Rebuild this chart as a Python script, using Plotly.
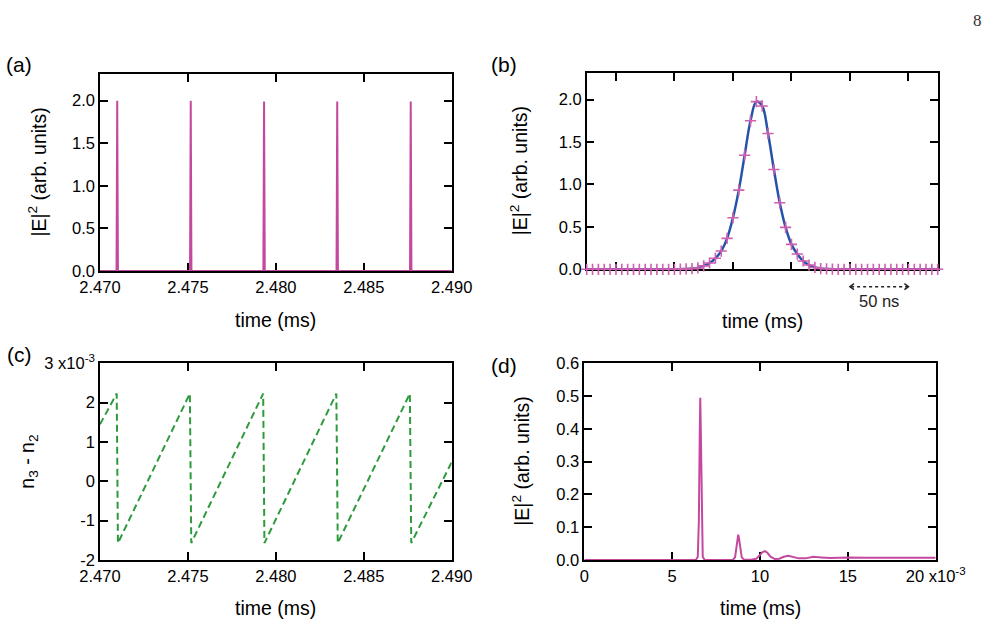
import plotly.graph_objects as go

# ---------------- data ----------------
# (a) |E|^2 pulse train, time in ms
a_time = [2.4700, 2.47094, 2.47098, 2.47102,
          2.47512, 2.47516, 2.47520,
          2.47929, 2.47933, 2.47937,
          2.48345, 2.48349, 2.48353,
          2.48763, 2.48767, 2.48771, 2.4900]
a_E2 = [0, 0, 2.0, 0,
        0, 2.0, 0,
        0, 1.99, 0,
        0, 1.99, 0,
        0, 1.99, 0, 0]

# (b) single pulse, time in ns (relative), sampled every 5 ns
b_time = list(range(0, 301, 5))
b_E2 = [0, 0, 0, 0, 0, 0, 0, 0, 0, 0, 0, 0, 0, 0, 0, 0,
        0.002, 0.004, 0.008, 0.016, 0.040, 0.074, 0.130, 0.215,
        0.365, 0.607, 0.933, 1.345, 1.750, 1.976, 1.925, 1.600,
        1.176, 0.784, 0.494, 0.294, 0.180, 0.098, 0.050, 0.022,
        0.009, 0.004, 0.002,
        0, 0, 0, 0, 0, 0, 0, 0, 0, 0, 0, 0, 0, 0, 0, 0, 0, 0]
b_ticks = [25, 75, 125, 175, 225, 275]

# (c) population inversion n3 - n2 (x10^-3), time in ms
c_time = [2.4700, 2.47095, 2.47102, 2.47511, 2.47519, 2.47928, 2.47935,
          2.48344, 2.48352, 2.48762, 2.48770, 2.4900]
c_n = [1.45, 2.23, -1.57, 2.23, -1.57, 2.23, -1.57, 2.23, -1.57, 2.23, -1.57, 0.49]

# (d) build-up transient, time in units of 1e-3 ms
d_time = [0, 6.35, 6.46, 6.52, 6.57, 6.60, 6.63, 6.68, 6.74, 6.85,
          8.45, 8.58, 8.66, 8.72, 8.76, 8.80, 8.87, 8.96, 9.10,
          9.5, 9.8, 10.0, 10.15, 10.28, 10.42, 10.6, 10.85,
          11.1, 11.35, 11.61, 11.9, 12.2, 12.6, 13.03, 13.5, 14.0, 14.5,
          15.0, 16.0, 17.0, 18.5, 20.0]
d_E2 = [0, 0, 0.01, 0.12, 0.38, 0.495, 0.40, 0.12, 0.01, 0,
        0, 0.008, 0.045, 0.072, 0.077, 0.068, 0.035, 0.008, 0.001,
        0.0005, 0.004, 0.015, 0.024, 0.027, 0.022, 0.010, 0.003,
        0.004, 0.010, 0.013, 0.010, 0.005, 0.005, 0.010, 0.008, 0.006, 0.007,
        0.008, 0.007, 0.007, 0.007, 0.007]

# ---------------- styles ----------------
MAG = "#c4499e"
MAG_MK = "#cf5fb0"
BLUE = "#2553aa"
GREEN = "#2f9a3d"
FONT = "Liberation Sans, Arial, sans-serif"
TICKSZ = 16.5
TITLESZ = 19.5

fig = go.Figure()
fig.add_trace(go.Scatter(x=a_time, y=a_E2, mode="lines",
                         line=dict(color=MAG, width=2), xaxis="x", yaxis="y"))
fig.add_trace(go.Scatter(x=b_time, y=b_E2, mode="lines",
                         line=dict(color=BLUE, width=2.5, shape="spline", smoothing=1.0),
                         xaxis="x2", yaxis="y2"))
fig.add_trace(go.Scatter(x=b_time, y=b_E2, mode="markers", cliponaxis=False,
                         marker=dict(symbol="cross-thin", size=8,
                                     line=dict(color=MAG_MK, width=1.6)),
                         xaxis="x2", yaxis="y2"))
fig.add_trace(go.Scatter(x=c_time, y=c_n, mode="lines",
                         line=dict(color=GREEN, width=2, dash="7px,4px"),
                         xaxis="x3", yaxis="y3"))
fig.add_trace(go.Scatter(x=d_time, y=d_E2, mode="lines",
                         line=dict(color=MAG, width=2), xaxis="x4", yaxis="y4"))

W, H = 1001, 625


def px_x(p):
    return p / W


def px_y(p):
    return 1 - p / H


def ax(**kw):
    d = dict(showline=True, linecolor="black", linewidth=1.5, mirror="ticks",
             ticks="inside", ticklen=8, tickwidth=1.5, tickcolor="black",
             showgrid=False, zeroline=False, layer="below traces", automargin=False,
             tickfont=dict(family=FONT, size=TICKSZ, color="black"))
    d.update(kw)
    return d


a_xdom = [px_x(100), px_x(451.7)]
b_xdom = [px_x(586.7), px_x(937.7)]
d_xdom = [px_x(584.3), px_x(935.7)]
top_ydom = [px_y(271), px_y(74.3)]
b_ydom = [px_y(269.3), px_y(73.3)]
bot_ydom = [px_y(560), px_y(363.3)]

fig.update_layout(
    template="none",
    width=W, height=H, margin=dict(l=0, r=0, t=0, b=0, pad=0, autoexpand=False),
    paper_bgcolor="white", plot_bgcolor="white", showlegend=False,
    font=dict(family=FONT, color="black"),
    xaxis=ax(domain=a_xdom, anchor="y", range=[2.470, 2.490],
             tickvals=[2.470, 2.475, 2.480, 2.485, 2.490], tickformat=".3f"),
    yaxis=ax(domain=top_ydom, anchor="x", range=[0, 2.31],
             tickvals=[0, 0.5, 1.0, 1.5, 2.0], tickformat=".1f"),
    xaxis2=ax(domain=b_xdom, anchor="y2", range=[0, 300],
              tickvals=b_ticks, showticklabels=False),
    yaxis2=ax(domain=b_ydom, anchor="x2", range=[0, 2.31],
              tickvals=[0, 0.5, 1.0, 1.5, 2.0], tickformat=".1f"),
    xaxis3=ax(domain=a_xdom, anchor="y3", range=[2.470, 2.490],
              tickvals=[2.470, 2.475, 2.480, 2.485, 2.490], tickformat=".3f"),
    yaxis3=ax(domain=bot_ydom, anchor="x3", range=[-2, 3],
              tickvals=[-2, -1, 0, 1, 2, 3],
              ticktext=["-2", "-1", "0", "1", "2", "3 x10<sup>-3</sup>"]),
    xaxis4=ax(domain=d_xdom, anchor="y4", range=[0, 20],
              tickvals=[0, 5, 10, 15, 20],
              ticktext=["0", "5", "10", "15", "20 x10<sup>-3</sup>"]),
    yaxis4=ax(domain=bot_ydom, anchor="x4", range=[0, 0.6],
              tickvals=[0, 0.1, 0.2, 0.3, 0.4, 0.5, 0.6], tickformat=".1f"),
)

ann = []


def text(x, y, s, size=TITLESZ, angle=0, family=FONT, color="black"):
    ann.append(dict(x=px_x(x), y=px_y(y), xref="paper", yref="paper", text=s,
                    showarrow=False, xanchor="center", yanchor="middle",
                    textangle=angle, font=dict(family=family, size=size, color=color)))


# panel letters
text(19, 65, "(a)", size=21)
text(504, 64, "(b)", size=21)
text(19, 355, "(c)", size=21)
text(504, 365, "(d)", size=21)
# x titles
text(275.8, 320, "time (ms)")
text(762, 321, "time (ms)")
text(275.8, 607.5, "time (ms)")
text(760, 608, "time (ms)")
# y titles
E2 = "|E|<sup>2</sup> (arb. units)"
text(37, 172.6, E2, angle=-90)
text(519, 171.3, E2, angle=-90)
text(29, 461.7, "n<sub>3</sub> - n<sub>2</sub>", angle=-90)
text(521, 461.7, E2, angle=-90)
# scale bar label
ann.append(dict(x=250, xref="x2", y=px_y(301), yref="paper", text="50 ns",
                showarrow=False, xanchor="center", yanchor="middle",
                font=dict(family=FONT, size=TICKSZ, color="#222")))
# page number
text(977, 20, "8", size=17, family="Liberation Serif, DejaVu Serif, serif", color="#333")
fig.update_layout(annotations=ann)

# scale bar: dotted line with chevrons (50 ns)
ybar = px_y(286.7)
shapes = [
    dict(type="line", xref="x2", yref="paper", x0=226, x1=274, y0=ybar, y1=ybar,
         line=dict(color="#222", width=1.5, dash="dot")),
    dict(type="path", xref="x2", yref="paper", xsizemode="pixel", ysizemode="pixel",
         xanchor=225, yanchor=ybar, path="M 4,3 L 0,0 L 4,-3",
         line=dict(color="#222", width=1.5)),
    dict(type="path", xref="x2", yref="paper", xsizemode="pixel", ysizemode="pixel",
         xanchor=275, yanchor=ybar, path="M -4,3 L 0,0 L -4,-3",
         line=dict(color="#222", width=1.5)),
]
fig.update_layout(shapes=shapes)

fig.write_html("out.html")
